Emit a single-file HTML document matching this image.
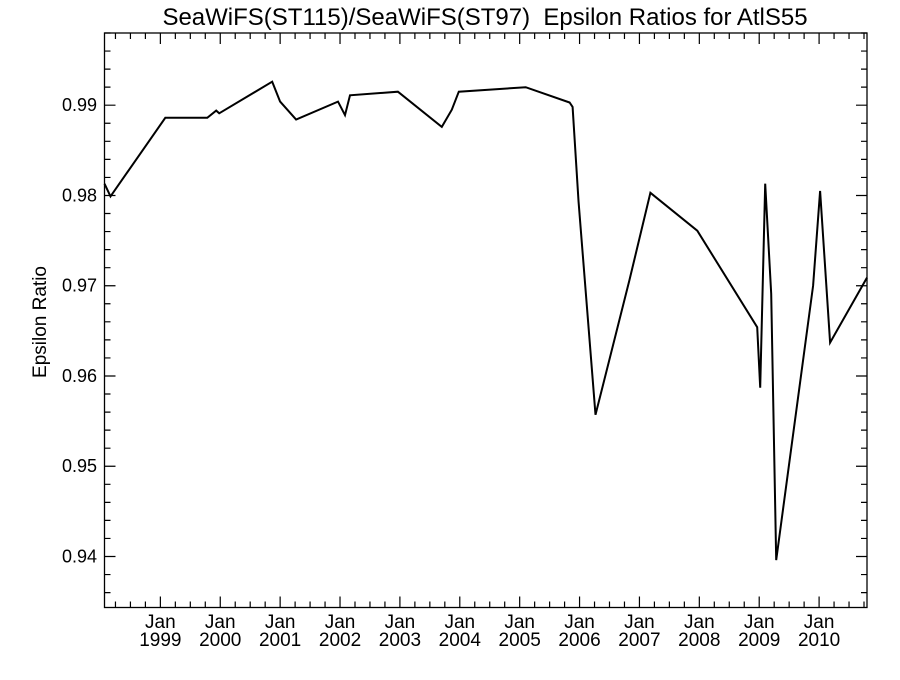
<!DOCTYPE html>
<html><head><meta charset="utf-8"><style>
body{margin:0;background:#fff;}
svg text{font-family:"Liberation Sans",sans-serif;fill:#000;}
</style></head><body>
<svg id="chart" width="900" height="675" xmlns="http://www.w3.org/2000/svg">
<rect width="900" height="675" fill="#fff"/>
<text x="485" y="25" font-size="24" text-anchor="middle" style="white-space:pre" xml:space="preserve">SeaWiFS(ST115)/SeaWiFS(ST97)  Epsilon Ratios for AtlS55</text>
<text transform="translate(46,322) rotate(-90)" font-size="19" text-anchor="middle">Epsilon Ratio</text>
<g id="axes"></g>
<g id="series"></g>
</svg>
<script>
const dates=[1998.067,1998.167,1999.083,1999.783,1999.933,1999.983,2000.867,2001.0,2001.267,2001.967,2002.083,2002.167,2002.967,2003.7,2003.867,2003.983,2005.1,2005.833,2005.883,2005.983,2006.267,2006.833,2007.183,2007.967,2008.967,2009.017,2009.1,2009.2,2009.283,2009.9,2010.017,2010.183,2010.8];
const ratios=[0.9813,0.9799,0.9886,0.9886,0.9894,0.9891,0.9926,0.9904,0.9884,0.9904,0.9889,0.9911,0.9915,0.9876,0.9895,0.9915,0.9920,0.9903,0.9898,0.9794,0.9557,0.9706,0.9803,0.9761,0.9654,0.9587,0.9813,0.9691,0.9396,0.9700,0.9805,0.9637,0.9709];
const yTicks=[0.94,0.95,0.96,0.97,0.98,0.99];
const yTickLabels=["0.94","0.95","0.96","0.97","0.98","0.99"];
const xYears=[1999,2000,2001,2002,2003,2004,2005,2006,2007,2008,2009,2010];

const L=104.5,R=867,T=33,B=607.5;
const xMin=1998.067,xMax=2010.8,yMin=0.93435,yMax=0.998;
const X=v=>L+(v-xMin)/(xMax-xMin)*(R-L);
const Y=v=>B-(v-yMin)/(yMax-yMin)*(B-T);
const NS="http://www.w3.org/2000/svg";
const ax=document.getElementById('axes');
function el(tag,attrs,parent){const e=document.createElementNS(NS,tag);for(const k in attrs)e.setAttribute(k,attrs[k]);parent.appendChild(e);return e;}
const frame=el('rect',{x:L,y:T,width:R-L,height:B-T,fill:'none',stroke:'#000','stroke-width':1.3},ax);


let d='';
for(let i=0;;i++){const v=0.936+i*0.002;if(v>yMax)break;const y=Y(v);const major=Math.abs(Math.round(v*100)-v*100)<1e-6;const len=major?11:6;d+=`M${L},${y}h${len}M${R},${y}h${-len}`;}
for(let i=0;;i++){const v=1998.25+i*0.25;if(v>xMax)break;const x=X(v);const major=Math.abs(v-Math.round(v))<1e-6;const len=major?11:6;d+=`M${x},${B}v${-len}M${x},${T}v${len}`;}
const ticks=el('path',{d:d,stroke:'#000','stroke-width':1.2,fill:'none'},ax);


yTicks.forEach((v,i)=>{const t=el('text',{x:97,y:Y(v)+6,'font-size':18,'text-anchor':'end'},ax);t.textContent=yTickLabels[i];

});
xYears.forEach(v=>{const x=X(v);const t=el('text',{x:x,y:628,'font-size':19,'text-anchor':'middle'},ax);t.textContent='Jan';


const t2=el('text',{x:x,y:646,'font-size':19,'text-anchor':'middle'},ax);t2.textContent=String(v);

});
const pts=dates.map((v,i)=>X(v).toFixed(1)+','+Y(ratios[i]).toFixed(1)).join(' ');
const line=el('polyline',{points:pts,fill:'none',stroke:'#000','stroke-width':2,'stroke-linejoin':'miter'},document.getElementById('series'));


</script>
</body></html>
